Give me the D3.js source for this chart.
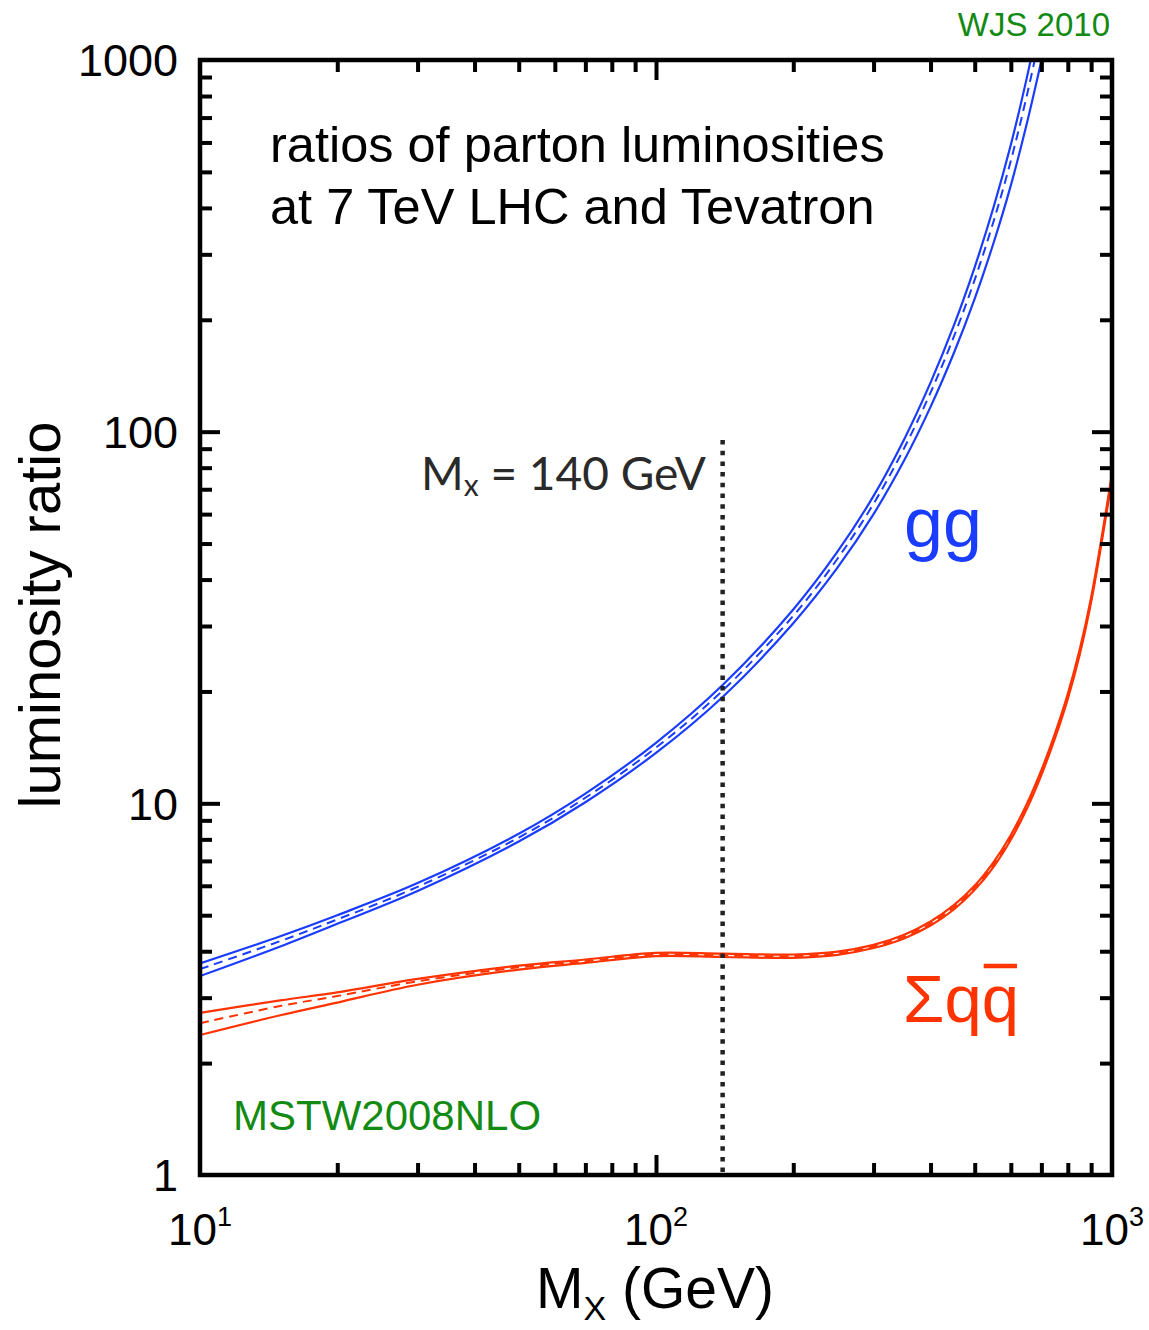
<!DOCTYPE html>
<html>
<head>
<meta charset="utf-8">
<script src="https://cdn.jsdelivr.net/npm/d3@7"></script>
<style>
  html, body { margin: 0; padding: 0; background: #ffffff; }
  svg { display: block; }
</style>
</head>
<body>
<svg id="chart" width="1149" height="1330"></svg>
<script>
// ---- data: parton luminosity ratios, 7 TeV LHC / Tevatron (MSTW2008NLO) ----
const ggMass = [10, 15, 20, 30, 50, 70, 100, 140, 200, 250, 300, 350, 400, 450, 500, 550, 600, 650, 700];
const ggCentral = [3.58, 4.26, 4.87, 5.96, 8.09, 10.35, 14.12, 20.1, 31.96, 45.5, 64.0, 90.2, 127.3, 180.2, 256.4, 368.4, 535.5, 799, 1210];
const ggUpper   = [3.71, 4.39, 5.00, 6.10, 8.28, 10.62, 14.55, 20.81, 33.24, 47.53, 67.17, 95.32, 135.5, 193.1, 277.3, 402.1, 591.2, 892.4, 1367];
const ggLower   = [3.43, 4.12, 4.74, 5.81, 7.89, 10.07, 13.67, 19.33, 30.52, 43.05, 60.0, 83.6, 116.6, 162.8, 228.0, 322.3, 460.0, 672.3, 994.9];

const qqMass = [10, 15, 20, 30, 50, 70, 100, 140, 200, 250, 300, 350, 400, 450, 500, 550, 600, 650, 700, 750, 800, 850, 900, 950, 1000];
const qqCentral = [2.56, 2.85, 3.03, 3.32, 3.62, 3.76, 3.92, 3.90, 3.88, 3.95, 4.12, 4.38, 4.75, 5.25, 5.93, 6.85, 8.10, 9.80, 12.1, 15.2, 19.4, 25.6, 35.3, 51.5, 76.0];
const qqUpper   = [2.73, 2.95, 3.10, 3.37, 3.66, 3.80, 3.96, 3.94, 3.92, 3.99, 4.16, 4.43, 4.81, 5.32, 6.01, 6.95, 8.22, 9.95, 12.28, 15.43, 19.7, 26.0, 35.8, 52.3, 77.2];
const qqLower   = [2.38, 2.69, 2.91, 3.25, 3.57, 3.72, 3.88, 3.86, 3.84, 3.91, 4.08, 4.33, 4.69, 5.18, 5.85, 6.75, 7.98, 9.65, 11.92, 14.97, 19.1, 25.2, 34.8, 50.7, 74.8];

const higgsMass = 140;              // marker line
const xDecades = [1, 2, 3];         // x tick labels 10^n
const yTickLabels = [1, 10, 100, 1000];

// ---- layout ----
const svg = d3.select("#chart");
const plot = { left: 200, right: 1112, top: 60, bottom: 1175 };
const blue = "#1a3cff", red = "#ff3300", green = "#138a13";
const font = "'Liberation Sans', Arial, Helvetica, sans-serif";

const x = d3.scaleLog().domain([10, 1000]).range([plot.left, plot.right]);
const y = d3.scaleLog().domain([1, 1000]).range([plot.bottom, plot.top]);

svg.append("defs").append("clipPath").attr("id", "plotClip")
  .append("rect")
  .attr("x", plot.left).attr("y", plot.top)
  .attr("width", plot.right - plot.left).attr("height", plot.bottom - plot.top);

const line = d3.line().x(d => x(d[0])).y(d => y(d[1])).curve(d3.curveCatmullRom.alpha(0.5));
const curves = svg.append("g").attr("clip-path", "url(#plotClip)");

function band(mass, lo, mid, hi, color) {
  const pts = arr => mass.map((m, i) => [m, arr[i]]);
  [lo, hi].forEach(arr => {
    curves.append("path").attr("d", line(pts(arr)))
      .attr("fill", "none").attr("stroke", color).attr("stroke-width", 2.2);
  });
  curves.append("path").attr("d", line(pts(mid)))
    .attr("fill", "none").attr("stroke", color).attr("stroke-width", 2)
    .attr("stroke-dasharray", "9,6");
}
band(ggMass, ggLower, ggCentral, ggUpper, blue);
band(qqMass, qqLower, qqCentral, qqUpper, red);

// vertical dotted marker at M_X = 140 GeV
svg.append("line")
  .attr("x1", x(higgsMass)).attr("x2", x(higgsMass))
  .attr("y1", 440).attr("y2", plot.bottom)
  .attr("stroke", "#222").attr("stroke-width", 4.5)
  .attr("stroke-dasharray", "4.5,6.2");

// ---- axes: ticks on all four sides, pointing inward ----
const xMinor = [], yMinor = [];
[10, 100].forEach(d => { for (let k = 2; k <= 9; k++) xMinor.push(d * k); });
[1, 10, 100].forEach(d => { for (let k = 2; k <= 9; k++) yMinor.push(d * k); });
const xMajor = [100];
const yMajor = [10, 100];

function addAxis(axisGen, scale, values, len, transform) {
  const g = svg.append("g").attr("transform", transform)
    .call(axisGen(scale).tickValues(values).tickSize(-len).tickFormat(""));
  g.select(".domain").remove();
  g.selectAll(".tick line").attr("stroke", "#000").attr("stroke-width", 4);
}
addAxis(d3.axisBottom, x, xMinor, 12, `translate(0,${plot.bottom})`);
addAxis(d3.axisBottom, x, xMajor, 20, `translate(0,${plot.bottom})`);
addAxis(d3.axisTop, x, xMinor, 12, `translate(0,${plot.top})`);
addAxis(d3.axisTop, x, xMajor, 20, `translate(0,${plot.top})`);
addAxis(d3.axisLeft, y, yMinor, 12, `translate(${plot.left},0)`);
addAxis(d3.axisLeft, y, yMajor, 20, `translate(${plot.left},0)`);
addAxis(d3.axisRight, y, yMinor, 12, `translate(${plot.right},0)`);
addAxis(d3.axisRight, y, yMajor, 20, `translate(${plot.right},0)`);

// frame
svg.append("rect")
  .attr("x", plot.left).attr("y", plot.top)
  .attr("width", plot.right - plot.left).attr("height", plot.bottom - plot.top)
  .attr("fill", "none").attr("stroke", "#000").attr("stroke-width", 4.5);

// y tick labels
svg.append("g").selectAll("text").data(yTickLabels).join("text")
  .attr("x", 178).attr("y", d => y(d)).attr("dy", "0.36em")
  .attr("text-anchor", "end")
  .attr("font-family", font).attr("font-size", 45).attr("fill", "#000")
  .text(d => d);

// x tick labels 10^n
const xl = svg.append("g").selectAll("text").data(xDecades).join("text")
  .attr("x", d => x(Math.pow(10, d))).attr("y", 1245)
  .attr("text-anchor", "middle")
  .attr("font-family", font).attr("font-size", 44).attr("fill", "#000");
xl.append("tspan").text("10");
xl.append("tspan").attr("font-size", 27).attr("dy", -19).text(d => d);

// axis titles
const xt = svg.append("text")
  .attr("x", 655).attr("y", 1308).attr("text-anchor", "middle")
  .attr("font-family", font).attr("font-size", 57).attr("fill", "#000");
xt.append("tspan").text("M");
xt.append("tspan").attr("font-size", 34).attr("dy", 12).text("X");
xt.append("tspan").attr("dy", -12).text(" (GeV)");

svg.append("text")
  .attr("transform", "translate(60,615) rotate(-90)")
  .attr("text-anchor", "middle")
  .attr("font-family", font).attr("font-size", 58).attr("fill", "#000")
  .text("luminosity ratio");

// annotation text
const title = svg.append("text")
  .attr("font-family", font).attr("font-size", 50.5).attr("fill", "#000");
title.append("tspan").attr("x", 270).attr("y", 162).text("ratios of parton luminosities");
title.append("tspan").attr("x", 270).attr("y", 224).text("at 7 TeV LHC and Tevatron");

const mx = svg.append("text")
  .attr("x", 706).attr("y", 490).attr("text-anchor", "end")
  .attr("font-family", "Lato, 'Open Sans', sans-serif").attr("font-size", 46).attr("fill", "#2a2a2a");
mx.append("tspan").text("M");
mx.append("tspan").attr("font-size", 30).attr("dy", 6).text("x");
mx.append("tspan").attr("dy", -6).text(" = 140 GeV");

svg.append("text")
  .attr("x", 904).attr("y", 547)
  .attr("font-family", font).attr("font-size", 70).attr("fill", blue)
  .text("gg");

// Σ q q̄ label, with a bar over the antiquark
const qq1 = svg.append("text")
  .attr("x", 903).attr("y", 1022)
  .attr("font-family", font).attr("font-size", 67).attr("fill", red)
  .text("Σq");
const w1 = qq1.node().getComputedTextLength();
const qq2 = svg.append("text")
  .attr("x", 903 + w1).attr("y", 1022)
  .attr("font-family", font).attr("font-size", 67).attr("fill", red)
  .text("q");
const w2 = qq2.node().getComputedTextLength();
svg.append("line")
  .attr("x1", 903 + w1 + 2).attr("x2", 903 + w1 + w2 - 2)
  .attr("y1", 966).attr("y2", 966)
  .attr("stroke", red).attr("stroke-width", 4.5);

svg.append("text")
  .attr("x", 233).attr("y", 1130)
  .attr("font-family", font).attr("font-size", 42).attr("fill", green)
  .text("MSTW2008NLO");

svg.append("text")
  .attr("x", 1110).attr("y", 36).attr("text-anchor", "end")
  .attr("font-family", font).attr("font-size", 33).attr("fill", green)
  .text("WJS 2010");
</script>
</body>
</html>
